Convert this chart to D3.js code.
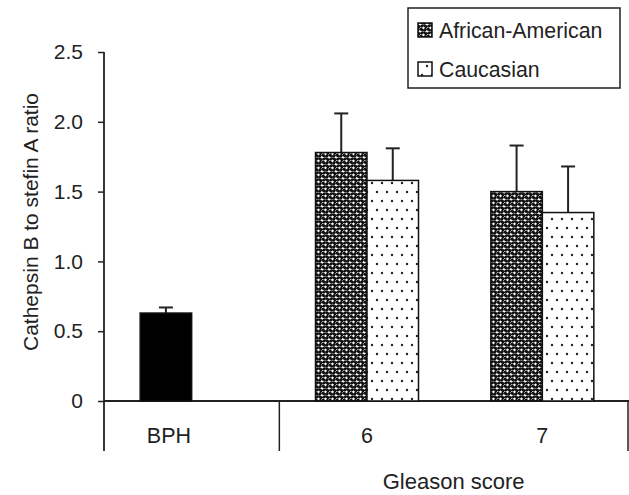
<!DOCTYPE html>
<html>
<head>
<meta charset="UTF-8">
<title>Cathepsin B to stefin A ratio</title>
<script src="https://cdn.jsdelivr.net/npm/d3@7"></script>
<style>
  body { margin: 0; background: #fff; }
  text { font-family: "Liberation Sans", Arial, sans-serif; fill: #222; }
</style>
</head>
<body>
<svg width="629" height="495"></svg>
<script>
// data
var categories = ["BPH", "6", "7"];
var africanAmerican = [0.63, 1.78, 1.50];   // BPH bar shown in this slot
var africanErr = [0.04, 0.28, 0.33];
var caucasian = [null, 1.58, 1.35];
var caucasianErr = [null, 0.23, 0.33];
var yTicks = [0, 0.5, 1.0, 1.5, 2.0, 2.5];
var seriesNames = ["African-American", "Caucasian"];

var svg = d3.select("svg");

// patterns
var defs = svg.append("defs");
var pDense = defs.append("pattern")
  .attr("id", "dense").attr("patternUnits", "userSpaceOnUse")
  .attr("width", 7).attr("height", 7);
pDense.append("rect").attr("width", 7).attr("height", 7).attr("fill", "#fff");
[[1.5, 1.5, 30], [5, 1.8, -40], [2, 5, -30], [5.6, 5.4, 45]].forEach(function (e) {
  pDense.append("ellipse")
    .attr("cx", e[0]).attr("cy", e[1]).attr("rx", 2.1).attr("ry", 1.5)
    .attr("transform", "rotate(" + e[2] + "," + e[0] + "," + e[1] + ")")
    .attr("fill", "#111");
});
var pSparse = defs.append("pattern")
  .attr("id", "sparse").attr("patternUnits", "userSpaceOnUse")
  .attr("width", 10).attr("height", 18);
pSparse.append("rect").attr("width", 10).attr("height", 18).attr("fill", "#fff");
pSparse.append("circle").attr("cx", 2).attr("cy", 3).attr("r", 1.2).attr("fill", "#222");
pSparse.append("circle").attr("cx", 7).attr("cy", 12).attr("r", 1.2).attr("fill", "#222");

// scales
var x = d3.scaleBand().domain(categories).range([104, 630]);
var y = d3.scaleLinear().domain([0, 2.5]).range([401, 52]);
var barW = 51.5;
var axisBottom = 451;

// y axis
var yAxis = svg.append("g")
  .attr("transform", "translate(104,0)")
  .call(d3.axisLeft(y).tickValues(yTicks).tickSize(6).tickPadding(15)
    .tickFormat(function (d) { return d === 0 ? "0" : d3.format(".1f")(d); }));
yAxis.select(".domain").remove();
yAxis.selectAll(".tick line").attr("stroke", "#222").attr("stroke-width", 1.5);
yAxis.selectAll(".tick text").attr("font-size", 21).attr("fill", "#222")
  .style("font-family", "'Liberation Sans', Arial, sans-serif");

svg.append("line")
  .attr("x1", 104).attr("x2", 104).attr("y1", y(2.5)).attr("y2", axisBottom)
  .attr("stroke", "#222").attr("stroke-width", 1.8);

// x axis line and separators (after BPH and at the right end)
svg.append("line")
  .attr("x1", 104).attr("x2", 629).attr("y1", y(0)).attr("y2", y(0))
  .attr("stroke", "#222").attr("stroke-width", 1.8);
[x("6"), 628].forEach(function (sx) {
  svg.append("line")
    .attr("x1", sx).attr("x2", sx)
    .attr("y1", y(0)).attr("y2", axisBottom)
    .attr("stroke", "#222").attr("stroke-width", 1.5);
});

// bars
function center(c) { return x(c) + x.bandwidth() / 2; }

var gAA = svg.append("g");
categories.forEach(function (c, i) {
  var v = africanAmerican[i];
  var x0 = center(c) - barW;
  gAA.append("line")
    .attr("x1", x0 + barW / 2).attr("x2", x0 + barW / 2)
    .attr("y1", y(v)).attr("y2", y(v + africanErr[i]))
    .attr("stroke", "#222").attr("stroke-width", 2);
  gAA.append("line")
    .attr("x1", x0 + barW / 2 - 7).attr("x2", x0 + barW / 2 + 7)
    .attr("y1", y(v + africanErr[i])).attr("y2", y(v + africanErr[i]))
    .attr("stroke", "#222").attr("stroke-width", 2);
  gAA.append("rect")
    .attr("x", x0).attr("y", y(v))
    .attr("width", barW).attr("height", y(0) - y(v))
    .attr("fill", c === "BPH" ? "#000" : "url(#dense)")
    .attr("stroke", "#111").attr("stroke-width", 1.5);
});

var gC = svg.append("g");
categories.forEach(function (c, i) {
  var v = caucasian[i];
  if (v == null) return;
  var x0 = center(c);
  gC.append("line")
    .attr("x1", x0 + barW / 2).attr("x2", x0 + barW / 2)
    .attr("y1", y(v)).attr("y2", y(v + caucasianErr[i]))
    .attr("stroke", "#222").attr("stroke-width", 2);
  gC.append("line")
    .attr("x1", x0 + barW / 2 - 7).attr("x2", x0 + barW / 2 + 7)
    .attr("y1", y(v + caucasianErr[i])).attr("y2", y(v + caucasianErr[i]))
    .attr("stroke", "#222").attr("stroke-width", 2);
  gC.append("rect")
    .attr("x", x0).attr("y", y(v))
    .attr("width", barW).attr("height", y(0) - y(v))
    .attr("fill", "url(#sparse)")
    .attr("stroke", "#111").attr("stroke-width", 1.5);
});

// category labels
svg.selectAll(".cat")
  .data(categories)
  .enter().append("text")
  .attr("x", function (d) { return d === "BPH" ? center(d) - barW / 2 + 3 : center(d); })
  .attr("y", 443)
  .attr("text-anchor", "middle")
  .attr("font-size", 21.5)
  .text(function (d) { return d; });

// axis titles
svg.append("text")
  .attr("x", (x("6") + 628) / 2).attr("y", 489)
  .attr("text-anchor", "middle").attr("font-size", 22)
  .text("Gleason score");
svg.append("text")
  .attr("transform", "translate(38,222) rotate(-90)")
  .attr("text-anchor", "middle").attr("font-size", 21)
  .text("Cathepsin B to stefin A ratio");

// legend
var legend = svg.append("g");
legend.append("rect")
  .attr("x", 408).attr("y", 8).attr("width", 212).attr("height", 80)
  .attr("fill", "#fff").attr("stroke", "#222").attr("stroke-width", 1.5);
var fills = ["url(#dense)", "url(#sparse)"];
seriesNames.forEach(function (name, i) {
  var yy = 30 + i * 39;
  legend.append("rect")
    .attr("x", 418).attr("y", yy - 7).attr("width", 14).attr("height", 14)
    .attr("fill", fills[i]).attr("stroke", "#111").attr("stroke-width", 1.5);
  legend.append("text")
    .attr("x", 439).attr("y", yy + 7.5)
    .attr("font-size", 21.3)
    .text(name);
});
</script>
</body>
</html>
